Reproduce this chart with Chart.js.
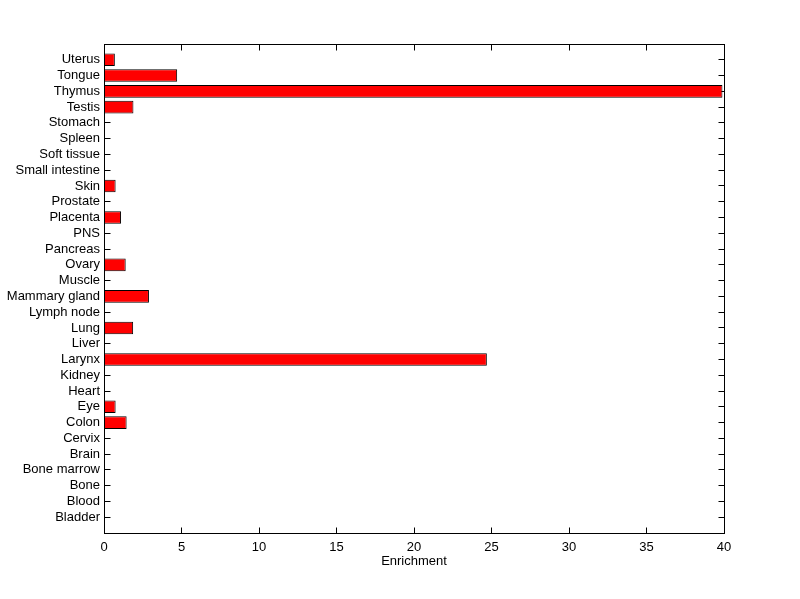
<!DOCTYPE html>
<html lang="en">
<head>
    <meta charset="UTF-8">
    <title>Enrichment by tissue</title>
    <script src="https://cdn.jsdelivr.net/npm/chart.js"></script>
    <style>
        body { margin: 0; background: #fff; }
        #chart { display: block; }
    </style>
</head>
<body>
<canvas id="chart" width="800" height="599"></canvas>
<script>
// tissues, bottom to top
const tissues = ["Bladder", "Blood", "Bone", "Bone marrow", "Brain", "Cervix", "Colon", "Eye",
    "Heart", "Kidney", "Larynx", "Liver", "Lung", "Lymph node", "Mammary gland", "Muscle",
    "Ovary", "Pancreas", "PNS", "Placenta", "Prostate", "Skin", "Small intestine",
    "Soft tissue", "Spleen", "Stomach", "Testis", "Thymus", "Tongue", "Uterus"];
const enrichment = [0, 0, 0, 0, 0, 0, 1.46, 0.75,
    0, 0, 24.7, 0, 1.88, 0, 2.9, 0,
    1.4, 0, 0, 1.1, 0, 0.75, 0,
    0, 0, 0, 1.9, 39.9, 4.72, 0.7];
const xTicks = [0, 5, 10, 15, 20, 25, 30, 35, 40];

const font = { family: "'Liberation Sans', Arial, sans-serif", size: 13 };

function edges(chart) {
    const a = chart.chartArea;
    return {
        L: Math.floor(a.left) + 0.5, R: Math.floor(a.right) + 0.5,
        T: Math.floor(a.top) + 0.5, B: Math.floor(a.bottom) + 0.5
    };
}

// MATLAB-like box with ticks pointing inward (ticks under the bars, box on top)
const boxPlugin = {
    id: 'box',
    beforeDatasetsDraw(chart) {
        const ctx = chart.ctx;
        const { L, R, T, B } = edges(chart);
        const xs = chart.scales.x, ys = chart.scales.y;
        const tl = 6;
        ctx.save();
        ctx.strokeStyle = '#000';
        ctx.lineWidth = 1;
        ctx.beginPath();
        xTicks.forEach(v => {
            const px = Math.floor(xs.getPixelForValue(v)) + 0.5;
            ctx.moveTo(px, B); ctx.lineTo(px, B - tl);
            ctx.moveTo(px, T); ctx.lineTo(px, T + tl);
        });
        tissues.forEach((t, i) => {
            const py = Math.floor(ys.getPixelForValue(i + 1)) + 0.5;
            ctx.moveTo(L, py); ctx.lineTo(L + tl, py);
            ctx.moveTo(R, py); ctx.lineTo(R - tl, py);
        });
        ctx.stroke();
        ctx.restore();
    },
    afterDatasetsDraw(chart) {
        const ctx = chart.ctx;
        const { L, R, T, B } = edges(chart);
        ctx.save();
        ctx.strokeStyle = '#000';
        ctx.lineWidth = 1;
        ctx.strokeRect(L, T, R - L, B - T);
        ctx.restore();
    }
};

new Chart(document.getElementById('chart').getContext('2d'), {
    type: 'bar',
    data: {
        datasets: [{
            data: enrichment.map((v, i) => ({ x: v, y: i + 1 })),
            backgroundColor: '#ff0000',
            borderColor: '#000',
            borderWidth: 1,
            borderSkipped: false,
            barPercentage: 0.8,
            categoryPercentage: 1
        }]
    },
    options: {
        indexAxis: 'y',
        responsive: false,
        animation: false,
        layout: { padding: { left: 0, top: 44, right: 76, bottom: 0 } },
        plugins: { legend: { display: false }, tooltip: { enabled: false } },
        scales: {
            x: {
                type: 'linear',
                min: 0, max: 40,
                grid: { display: false, drawTicks: false },
                border: { display: false },
                afterBuildTicks: s => { s.ticks = xTicks.map(v => ({ value: v })); },
                afterFit: s => { s.height = 66; },
                ticks: { color: '#000', font: font, padding: 7, maxRotation: 0 },
                title: { display: true, text: 'Enrichment', color: '#000', font: font, padding: { top: 0, bottom: 30 } }
            },
            y: {
                type: 'linear',
                min: 0, max: 31,
                offset: false,
                grid: { display: false, drawTicks: false, offset: false },
                border: { display: false },
                afterBuildTicks: s => { s.ticks = tissues.map((t, i) => ({ value: i + 1 })); },
                afterFit: s => { s.width = 104; },
                ticks: {
                    color: '#000', font: font, padding: 4, autoSkip: false,
                    callback: v => tissues[v - 1] || ''
                }
            }
        }
    },
    plugins: [boxPlugin]
});
</script>
</body>
</html>
